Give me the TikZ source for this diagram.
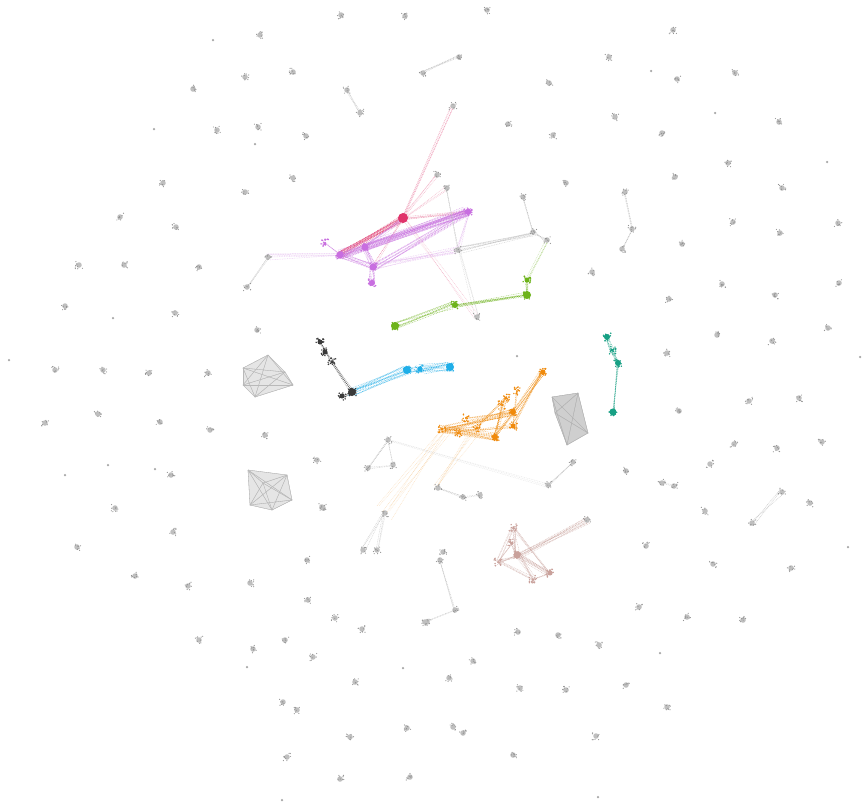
\documentclass[tikz,border=0pt]{standalone}
\usetikzlibrary{calc}

\definecolor{crim}{HTML}{E0336B}
\definecolor{orch}{HTML}{C86EE0}
\definecolor{lime}{HTML}{6DB31A}
\definecolor{sky}{HTML}{1FAEE8}
\definecolor{jade}{HTML}{17A084}
\definecolor{amber}{HTML}{F08A0C}
\definecolor{rose}{HTML}{C9A19B}
\definecolor{coal}{HTML}{3A3A3A}

\pgfdeclarelayer{bg}
\pgfsetlayers{bg,main}

\begin{document}
\begin{tikzpicture}[
    x=1pt, y=-1pt,
    clump/.style={circle, inner sep=0pt, minimum size=#1, fill=gray!50},
    clump/.default=5.5pt,
    hub/.style={circle, inner sep=0pt, minimum size=7pt, fill=#1},
    wisp/.style={draw=#1, line width=0.5pt, dash pattern=on 0.8pt off 0.9pt,
                 draw opacity=0.6},
    pics/speck/.style={code={
      \foreach \k in {1,...,9} \fill[#1] (rand*3.8, rand*3.8) circle (0.6pt);}},
    pics/blot/.style={code={
      \foreach \k in {1,...,16} \fill[#1] (rand*4, rand*4) circle (0.8pt);}}
  ]
  \pgfmathsetseed{42}
  \useasboundingbox (0,0) rectangle (864,807);
  \begin{pgfonlayer}{bg}
    \fill[white] (0,0) rectangle (864,807);
  \end{pgfonlayer}

  % loose gray clusters
  \foreach \x/\y [count=\i] in {341/15, 405/16, 487/10, 260/35, 293/72, 245/77,
      193/89, 217/130, 258/127, 306/136, 508/124, 553/135, 549/83, 609/57,
      673/30, 677/79, 735/73, 615/117, 662/133, 779/122, 728/163, 675/177,
      566/183, 163/183, 245/192, 293/178, 120/217, 176/227, 838/223, 682/244,
      79/265, 124/265, 199/267, 592/272, 722/284, 775/295, 839/283, 669/299,
      717/335, 772/341, 828/328, 667/353, 679/411, 749/401, 799/398, 734/444,
      777/448, 822/442, 710/464, 626/471, 705/511, 810/503, 646/546, 713/564,
      791/568, 257/330, 65/306, 175/313, 55/370, 103/370, 149/373, 208/373,
      98/414, 45/423, 160/422, 210/430, 171/475, 115/508, 265/435, 317/460,
      323/508, 173/532, 77/547, 135/576, 188/586, 250/583, 307/560, 322/507,
      308/600, 335/618, 362/629, 199/640, 253/649, 285/640, 313/657, 355/682,
      283/702, 297/710, 407/728, 350/737, 287/757, 340/779, 410/777, 427/622,
      639/607, 687/617, 743/620, 518/632, 558/635, 599/645, 473/661, 449/678,
      520/688, 566/690, 626/685, 667/707, 453/727, 463/733, 596/736, 513/755,
      443/552, 733/222, 780/233, 782/188}
  {
    \node[clump] (g\i) at (\x,\y) {};
    \pic at (g\i) {speck=gray!85};
  }
  \foreach \x/\y [count=\i] in {9/360, 113/318, 213/40, 154/129, 255/144,
      108/465, 155/469, 65/475, 247/667, 282/800, 827/162, 860/357, 848/547,
      715/113, 651/71, 598/797, 660/653, 403/668, 517/356}
    \node[clump=2.5pt, fill=gray!70] (t\i) at (\x,\y) {};

  % gray clusters with links
  \foreach \nm/\x/\y in {gtop/453/106, gup/437/175, gupb/447/188, gleft/268/257,
      gll/247/287, gmid/458/250, gne/533/232, gneb/523/197, gnec/547/240,
      glow/477/317, gbr/587/520, c1/625/192, c2/632/229, c3/622/249,
      a1/423/73, a2/459/57, a3/347/90, a4/360/113, s1/752/523, s2/782/492,
      s3/573/462, s4/548/485, m1/388/440, m2/368/468, m3/393/465, m4/438/488,
      m5/463/497, m6/480/495, n1/385/513, n2/363/550, n3/377/550,
      w1/440/560, w2/455/610, w3/425/622, e1/662/483, e2/674/486}
  {
    \node[clump] (\nm) at (\x,\y) {};
    \pic at (\nm) {speck=gray!85};
  }

  % coloured clusters
  \foreach \nm/\x/\y/\c/\s in {pk/403/218/crim/10pt,
      p1/468/212/orch/6pt, p2/365/247/orch/7pt, p3/340/255/orch/7pt,
      p4/325/243/orch/3pt, p5/373/267/orch/7pt, p6/372/283/orch/6pt,
      gn1/527/295/lime/8pt, gn1b/527/280/lime/5pt, gn2/455/305/lime/6pt,
      gn3/395/326/lime/8pt,
      k1/320/342/coal/5pt, k2/325/352/coal/5pt, k3/332/362/coal/3pt,
      k4/352/392/coal/8pt, k5/342/396/coal/5pt,
      b1/407/370/sky/8pt, b3/420/369/sky/5pt, b2/450/367/sky/8pt,
      t1/607/337/jade/6pt, t4/612/350/jade/3pt, t2/618/363/jade/6pt,
      t3/613/412/jade/7pt,
      o1/543/372/amber/5pt, o2/506/398/amber/3pt, o3/513/412/amber/6pt,
      o4/513/426/amber/5pt, o5/495/437/amber/6pt, o6/442/429/amber/3pt,
      o7/458/433/amber/3pt, o8/477/428/amber/3pt, o9/502/405/amber/2pt,
      o10/466/418/amber/2pt, o11/517/391/amber/2pt,
      r0/517/555/rose/7pt, r1/513/528/rose/2pt, r2/498/562/rose/2pt,
      r3/533/579/rose/2pt, r4/550/573/rose/5pt, r5/512/543/rose/3pt}
  {
    \node[hub=\c, minimum size=\s] (\nm) at (\x,\y) {};
    \pic at (\nm) {blot=\c};
  }

  % dense gray webs
  \foreach \x/\y [count=\i] in {243/368, 268/355, 285/372, 293/385, 255/397, 243/385}
    \coordinate (la\i) at (\x,\y);
  \foreach \x/\y [count=\i] in {552/397, 578/393, 588/433, 567/445, 555/413}
    \coordinate (sq\i) at (\x,\y);
  \foreach \x/\y [count=\i] in {248/470, 287/475, 292/500, 272/510, 250/505, 263/483}
    \coordinate (lb\i) at (\x,\y);

  \begin{pgfonlayer}{bg}
    \fill[gray!20] (la1) -- (la2) -- (la3) -- (la4) -- (la5) -- (la6) -- cycle;
    \fill[gray!38] (sq1) -- (sq2) -- (sq3) -- (sq4) -- (sq5) -- cycle;
    \fill[gray!20] (lb1) -- (lb2) -- (lb3) -- (lb4) -- (lb5) -- cycle;
    \foreach \a in {1,...,6}
      \foreach \b in {1,...,6} {
        \draw[gray!55, line width=0.3pt] (la\a) -- (la\b);
        \draw[gray!55, line width=0.3pt] (lb\a) -- (lb\b);
      }
    \foreach \a in {1,...,5}
      \foreach \b in {1,...,5}
        \draw[gray!60, line width=0.3pt] (sq\a) -- (sq\b);

    % bundles of links: from/to/count/colour/spread
    \foreach \a/\b/\n/\c/\r in {
        pk/gtop/5/crim!55/2, pk/gup/3/crim!60/2, pk/gupb/3/crim!50/2, pk/p1/6/crim!60/2,
        pk/p3/16/crim/4, pk/p5/3/crim!60/2, pk/glow/3/crim!45/3,
        p1/p3/18/orch/5, p1/p2/12/orch/4, p1/p5/10/orch/4, p2/p5/9/orch/3,
        p3/p5/10/orch/3, p2/p3/6/orch/2, p5/p6/8/orch/3, p3/gleft/6/orch!55/3,
        p5/gmid/8/orch!60/4, p1/gmid/4/orch!60/2, p4/p3/3/orch/1, pk/p2/5/orch/2,
        gmid/gne/9/gray!55/4, gmid/gupb/3/gray!55/1, gmid/glow/3/gray!45/2,
        gne/gneb/3/gray!60/1, gne/gnec/4/gray!60/3, gleft/gll/3/gray!60/2,
        gnec/gn1b/4/lime!60/2, gn1b/gn1/6/lime/2, gn1/gn2/9/lime/3,
        gn2/gn3/9/lime/4,
        k1/k2/4/coal/2, k2/k3/4/coal/2, k3/k4/5/coal/2, k4/k5/4/coal/2,
        k4/b1/14/sky/4, b1/b3/8/sky/4, b3/b2/16/sky/5,
        t1/t4/6/jade/2, t4/t2/6/jade/2, t2/t3/5/jade/1,
        o1/o3/8/amber/3, o1/o4/5/amber/2, o2/o5/5/amber/2, o3/o5/6/amber/2,
        o9/o5/4/amber/2, o6/o5/12/amber/4, o6/o3/12/amber/4, o7/o4/4/amber/2,
        o8/o2/4/amber/2, o10/o3/3/amber/1, o6/o8/5/amber/2, o11/o4/3/amber/1,
        o6/n1/7/amber!40/9, o8/m4/5/amber!40/5,
        r0/r1/6/rose/3, r0/r2/6/rose/3, r0/r3/6/rose/3, r0/r4/9/rose/3,
        r0/r5/5/rose/2, r1/r2/4/rose/2, r2/r3/4/rose/2, r3/r4/3/rose/1,
        r1/r4/4/rose/2, r5/r2/3/rose/1, r0/gbr/10/rose/4,
        c1/c2/3/gray!60/1, c2/c3/3/gray!60/1, a1/a2/4/gray!60/2, a3/a4/3/gray!60/1,
        s1/s2/3/gray!70/3, s3/s4/3/gray!60/1, e1/e2/2/gray!60/1,
        m1/m2/3/gray!60/1, m2/m3/2/gray!60/1, m1/m3/2/gray!60/1,
        m1/s4/3/gray!30/3, m4/m5/3/gray!60/1, m5/m6/2/gray!60/1,
        n1/n2/3/gray!60/2, n1/n3/3/gray!60/2, w1/w2/3/gray!60/1, w2/w3/2/gray!60/1}
      \foreach \k in {1,...,\n}
        \draw[wisp=\c] ($(\a)+(rand*\r,rand*\r)$) -- ($(\b)+(rand*\r,rand*\r)$);
  \end{pgfonlayer}
\end{tikzpicture}
\end{document}
